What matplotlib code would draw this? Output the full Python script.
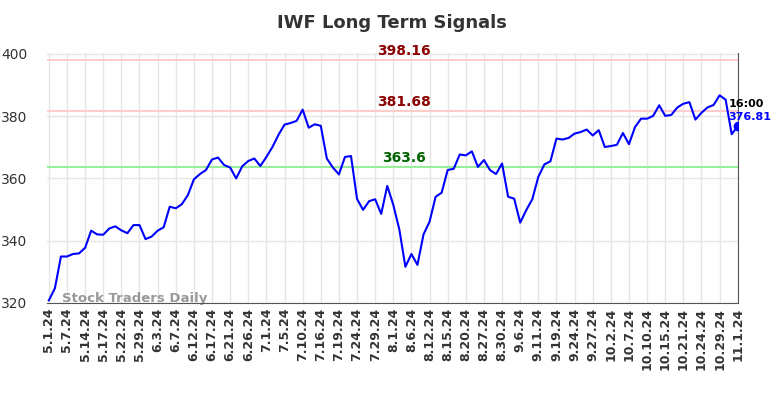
import matplotlib
matplotlib.use("Agg")
import matplotlib.pyplot as plt

# Closing prices (one point every trading session shown)
prices = [
    320.8, 324.7, 334.9, 334.9, 335.7, 335.9, 337.7, 343.2, 342.0, 341.9,
    343.9, 344.6, 343.3, 342.4, 345.0, 345.0, 340.5, 341.3, 343.2, 344.3,
    350.9, 350.4, 351.7, 354.6, 359.7, 361.4, 362.7, 366.1, 366.7, 364.3,
    363.5, 360.0, 363.9, 365.6, 366.4, 364.0, 366.9, 370.1, 374.0, 377.3,
    377.8, 378.5, 382.1, 376.3, 377.4, 376.9, 366.4, 363.5, 361.3, 366.9,
    367.2, 353.4, 349.9, 352.7, 353.3, 348.6, 357.6, 351.5, 343.6, 331.6,
    335.7, 332.2, 342.0, 346.1, 354.1, 355.4, 362.7, 363.1, 367.7, 367.4,
    368.7, 363.7, 365.9, 362.7, 361.4, 364.8, 354.1, 353.5, 345.8, 349.8,
    353.3, 360.5, 364.5, 365.5, 372.8, 372.5, 373.0, 374.4, 374.9, 375.7,
    373.8, 375.5, 370.1, 370.4, 370.8, 374.6, 371.0, 376.5, 379.2, 379.2,
    380.1, 383.5, 380.1, 380.4, 382.8, 384.0, 384.5, 378.9, 381.1, 382.8,
    383.6, 386.7, 385.3, 374.2, 376.81,
]

tick_labels = [
    "5.1.24", "5.7.24", "5.14.24", "5.17.24", "5.22.24", "5.29.24", "6.3.24",
    "6.7.24", "6.12.24", "6.17.24", "6.21.24", "6.26.24", "7.1.24", "7.5.24",
    "7.10.24", "7.16.24", "7.19.24", "7.24.24", "7.29.24", "8.1.24", "8.6.24",
    "8.12.24", "8.15.24", "8.20.24", "8.27.24", "8.30.24", "9.6.24", "9.11.24",
    "9.19.24", "9.24.24", "9.27.24", "10.2.24", "10.7.24", "10.10.24",
    "10.15.24", "10.21.24", "10.24.24", "10.29.24", "11.1.24",
]

resistance = [398.16, 381.68]
support = [363.6]
last_time = "16:00"

x = list(range(len(prices)))
tick_pos = list(range(0, len(prices), 3))

fig = plt.figure(figsize=(7.84, 3.98), dpi=100)
ax = fig.add_axes([0.060, 0.239, 0.881, 0.627])

ax.grid(True, color="#e6e6e6", linewidth=1)
ax.set_axisbelow(True)

for lvl in resistance:
    ax.axhline(lvl, color="#ffcccc", linewidth=1.5, zorder=1)
    ax.text(58.7, lvl + 0.6, f"{lvl:g}", color="#8b0000", fontsize=10,
            fontweight="bold", ha="center", va="bottom")
for lvl in support:
    ax.axhline(lvl, color="#99ee99", linewidth=1.5, zorder=1)
    ax.text(58.7, lvl + 0.6, f"{lvl:g}", color="#006400", fontsize=10,
            fontweight="bold", ha="center", va="bottom")

ax.plot(x, prices, color="blue", linewidth=1.5, zorder=3)
ax.plot(x[-1], prices[-1], "o", color="blue", markersize=6, zorder=4)

ax.text(x[-1] - 1.5, prices[-1] + 5.5, last_time, color="black", fontsize=8,
        fontweight="bold", ha="left", va="bottom")
ax.text(x[-1] - 1.5, prices[-1] + 1.3, f"{prices[-1]:g}", color="blue",
        fontsize=8, fontweight="bold", ha="left", va="bottom")

ax.text(0.021, -0.01, "Stock Traders Daily", transform=ax.transAxes,
        color="#999999", fontsize=9.5, fontweight="bold", ha="left",
        va="bottom", zorder=2)

ax.set_xlim(-0.3, len(prices) - 1)
ax.set_ylim(320, 400.2)
ax.set_yticks([320, 340, 360, 380, 400])
ax.set_xticks(tick_pos)
ax.set_xticklabels(tick_labels, rotation=90, fontsize=9, fontweight="bold")
ax.tick_params(axis="both", length=0, colors="#333333")
ax.tick_params(axis="y", labelsize=10, pad=14)

for side in ["top", "left"]:
    ax.spines[side].set_visible(False)
for side in ["bottom", "right"]:
    ax.spines[side].set_color("#555555")

fig.suptitle("IWF Long Term Signals", x=0.5, y=0.965, fontsize=13,
             fontweight="bold", color="#333333")

fig.savefig("out.png", dpi=100)
